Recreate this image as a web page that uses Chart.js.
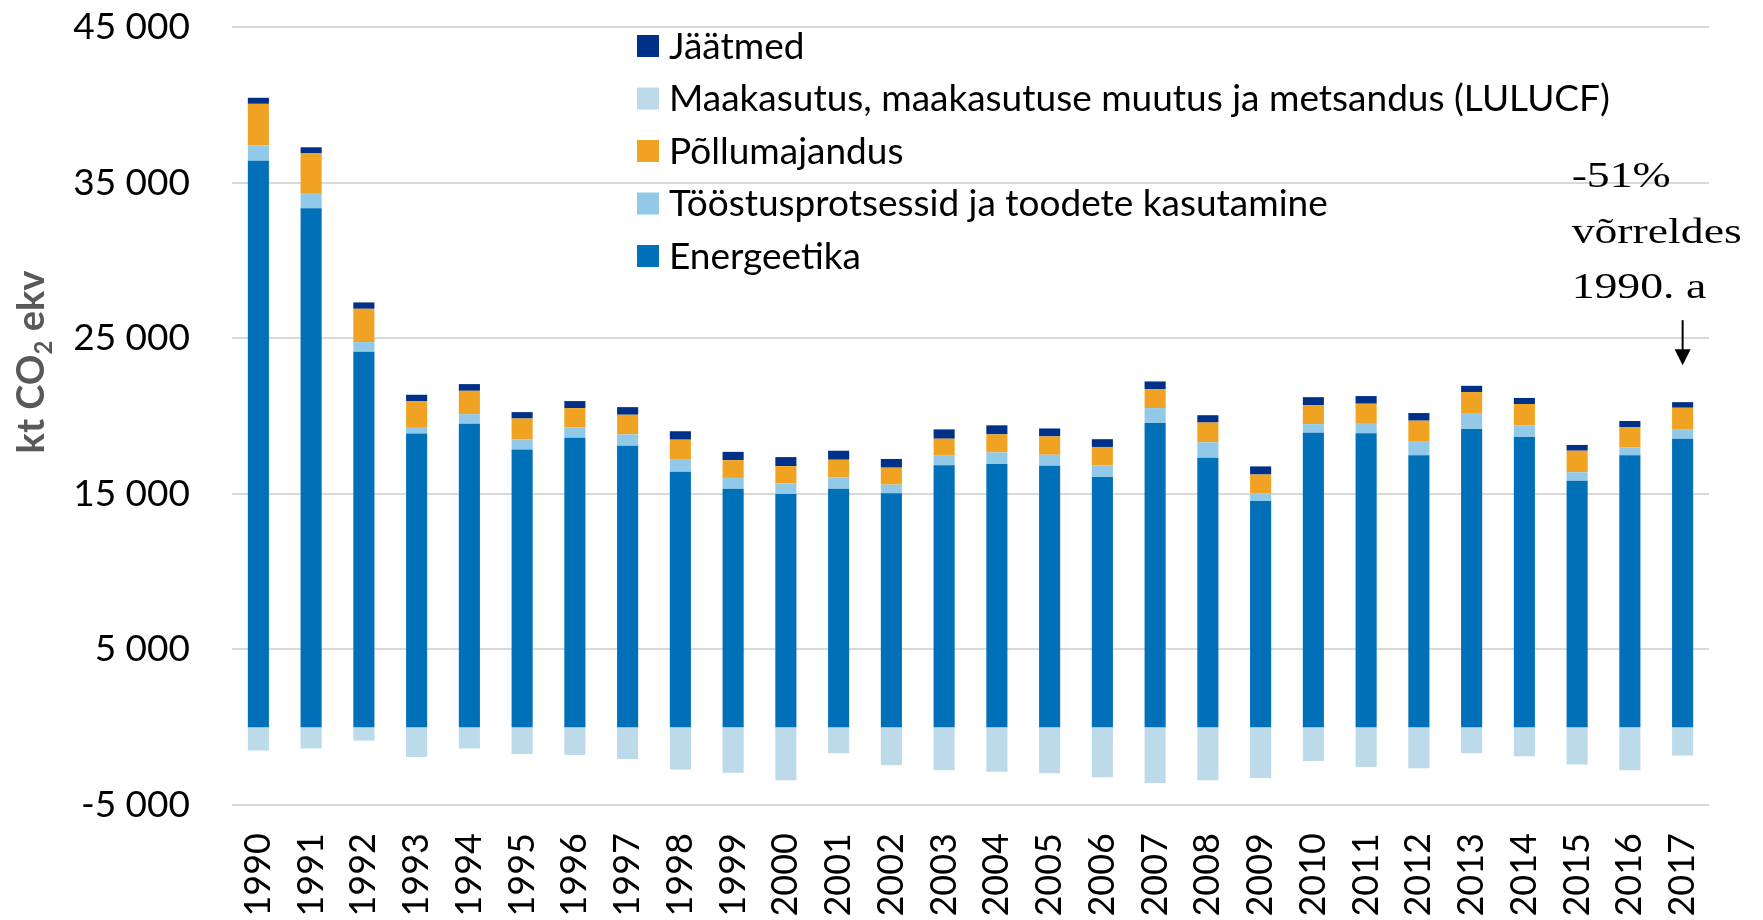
<!DOCTYPE html>
<html>
<head>
<meta charset="utf-8">
<script src="https://cdn.jsdelivr.net/npm/chart.js@4/dist/chart.umd.min.js"></script>
<style>
  html, body { margin: 0; padding: 0; background: #fff; }
  #wrap { width: 1763px; height: 920px; position: relative; }
</style>
</head>
<body>
<div id="wrap"><canvas id="chart"></canvas></div>
<script>
// aastad ja sektorite heitkogused (kt CO2 ekv)
const years = ['1990', '1991', '1992', '1993', '1994', '1995', '1996', '1997', '1998', '1999',
  '2000', '2001', '2002', '2003', '2004', '2005', '2006', '2007', '2008', '2009',
  '2010', '2011', '2012', '2013', '2014', '2015', '2016', '2017'];

const energeetika = [36400, 33350, 24130, 18880, 19500, 17850, 18600, 18090, 16420, 15330,
  14980, 15330, 15030, 16830, 16910, 16800, 16080, 19550, 17320, 14530,
  18920, 18890, 17470, 19160, 18650, 15840, 17470, 18540];
const toostus = [980, 980, 620, 360, 620, 640, 670, 730, 770, 690,
  690, 730, 560, 620, 750, 710, 750, 960, 990, 510,
  560, 660, 920, 1030, 750, 540, 520, 620];
const pollumajandus = [2680, 2570, 2140, 1700, 1500, 1350, 1240, 1260, 1290, 1140,
  1110, 1130, 1090, 1090, 1160, 1180, 1180, 1220, 1270, 1200,
  1220, 1240, 1310, 1350, 1370, 1390, 1300, 1370];
const lulucf = [-1500, -1370, -860, -1910, -1370, -1720, -1780, -2040, -2720, -2920,
  -3410, -1670, -2440, -2770, -2870, -2960, -3220, -3580, -3410, -3260,
  -2170, -2550, -2640, -1670, -1870, -2400, -2770, -1820];
const jaatmed = [390, 370, 410, 425, 430, 410, 450, 490, 540, 535,
  580, 580, 560, 600, 580, 510, 500, 490, 470, 520,
  510, 490, 490, 400, 390, 370, 390, 360];

const yTicks = [-5000, 5000, 15000, 25000, 35000, 45000];

const COLORS = {
  energeetika: '#0070b8',
  toostus: '#93c9e8',
  pollumajandus: '#f0a323',
  lulucf: '#bcdaea',
  jaatmed: '#003189'
};

const FONT = 'Lato, "Open Sans", sans-serif';

function fmtThousands(v) {
  return String(v).replace(/\B(?=(\d{3})+(?!\d))/g, ' ');
}

// legend inside plot (top), in reverse dataset order
const legendPlugin = {
  id: 'insideLegend',
  afterDraw(chart) {
    const ctx = chart.ctx;
    const items = chart.data.datasets.slice().reverse();
    ctx.save();
    ctx.font = '37px ' + FONT;
    ctx.textBaseline = 'middle';
    ctx.textAlign = 'left';
    items.forEach((ds, i) => {
      const cy = 46 + i * 52.5;
      ctx.fillStyle = ds.backgroundColor;
      ctx.fillRect(637, cy - 11, 22, 22);
      ctx.fillStyle = '#000';
      ctx.fillText(ds.label, 669, cy + 1);
    });
    ctx.restore();
  }
};

// y axis title with subscript
const yTitlePlugin = {
  id: 'yTitle',
  afterDraw(chart) {
    const ctx = chart.ctx;
    const big = 'bold 38px ' + FONT;
    const small = 'bold 24px ' + FONT;
    ctx.save();
    ctx.fillStyle = '#595959';
    ctx.font = big;
    const w1 = ctx.measureText('kt CO').width;
    const w3 = ctx.measureText(' ekv').width;
    ctx.font = small;
    const w2 = ctx.measureText('2').width;
    const total = w1 + w2 + w3;
    ctx.translate(44, 362 + total / 2);
    ctx.rotate(-Math.PI / 2);
    ctx.textBaseline = 'alphabetic';
    ctx.textAlign = 'left';
    ctx.font = big;
    ctx.fillText('kt CO', 0, 0);
    ctx.font = small;
    ctx.fillText('2', w1, 8);
    ctx.font = big;
    ctx.fillText(' ekv', w1 + w2, 0);
    ctx.restore();
  }
};

// note and arrow over the last bar
const notePlugin = {
  id: 'note',
  afterDraw(chart) {
    const ctx = chart.ctx;
    const xs = chart.scales.x;
    const ys = chart.scales.y;
    const last = years.length - 1;
    const x = xs.getPixelForValue(last);
    const top = energeetika[last] + toostus[last] + pollumajandus[last] + jaatmed[last];
    const tip = ys.getPixelForValue(top) - 37;
    ctx.save();
    ctx.strokeStyle = '#000';
    ctx.fillStyle = '#000';
    ctx.lineWidth = 2;
    ctx.beginPath();
    ctx.moveTo(x, tip - 45);
    ctx.lineTo(x, tip - 12);
    ctx.stroke();
    ctx.beginPath();
    ctx.moveTo(x - 8, tip - 16);
    ctx.lineTo(x + 8, tip - 16);
    ctx.lineTo(x, tip);
    ctx.closePath();
    ctx.fill();

    const lines = ['-51%', 'võrreldes', '1990. a'];
    ctx.font = '36px "Liberation Serif", "Times New Roman", serif';
    ctx.textBaseline = 'alphabetic';
    ctx.textAlign = 'left';
    lines.forEach((t, i) => {
      ctx.save();
      ctx.translate(x - 111, 187 + i * 55.5);
      ctx.scale(1.27, 1);
      ctx.fillText(t, 0, 0);
      ctx.restore();
    });
    ctx.restore();
  }
};

const datasets = [
  { label: 'Energeetika', data: energeetika, backgroundColor: COLORS.energeetika },
  { label: 'Tööstusprotsessid ja toodete kasutamine', data: toostus, backgroundColor: COLORS.toostus },
  { label: 'Põllumajandus', data: pollumajandus, backgroundColor: COLORS.pollumajandus },
  { label: 'Maakasutus, maakasutuse muutus ja metsandus (LULUCF)', data: lulucf, backgroundColor: COLORS.lulucf },
  { label: 'Jäätmed', data: jaatmed, backgroundColor: COLORS.jaatmed }
].map(ds => Object.assign(ds, { barPercentage: 0.4, categoryPercentage: 1, borderWidth: 0 }));

new Chart(document.getElementById('chart'), {
  type: 'bar',
  data: { labels: years, datasets },
  options: {
    responsive: true,
    maintainAspectRatio: false,
    animation: false,
    layout: { padding: { top: 27, right: 54, left: 0, bottom: 0 } },
    plugins: {
      legend: { display: false },
      tooltip: { enabled: false }
    },
    scales: {
      x: {
        stacked: true,
        grid: { display: false, drawTicks: false },
        border: { display: false },
        ticks: {
          color: '#000',
          font: { family: FONT, size: 36 },
          minRotation: 90,
          maxRotation: 90,
          autoSkip: false,
          padding: 28
        },
        afterFit: (scale) => {
          scale.height = 115;
          scale.paddingLeft = 0;
          scale.paddingRight = 0;
        }
      },
      y: {
        stacked: true,
        min: -5000,
        max: 45000,
        afterBuildTicks: (scale) => { scale.ticks = yTicks.map(v => ({ value: v })); },
        grid: { color: '#d9d9d9', lineWidth: 2, drawTicks: false },
        border: { display: false },
        ticks: {
          color: '#000',
          font: { family: FONT, size: 37 },
          padding: 42,
          callback: (v) => fmtThousands(v)
        },
        afterFit: (scale) => {
          scale.width = 232;
          scale.paddingTop = 0;
          scale.paddingBottom = 0;
        }
      }
    }
  },
  plugins: [legendPlugin, yTitlePlugin, notePlugin]
});
</script>
</body>
</html>
